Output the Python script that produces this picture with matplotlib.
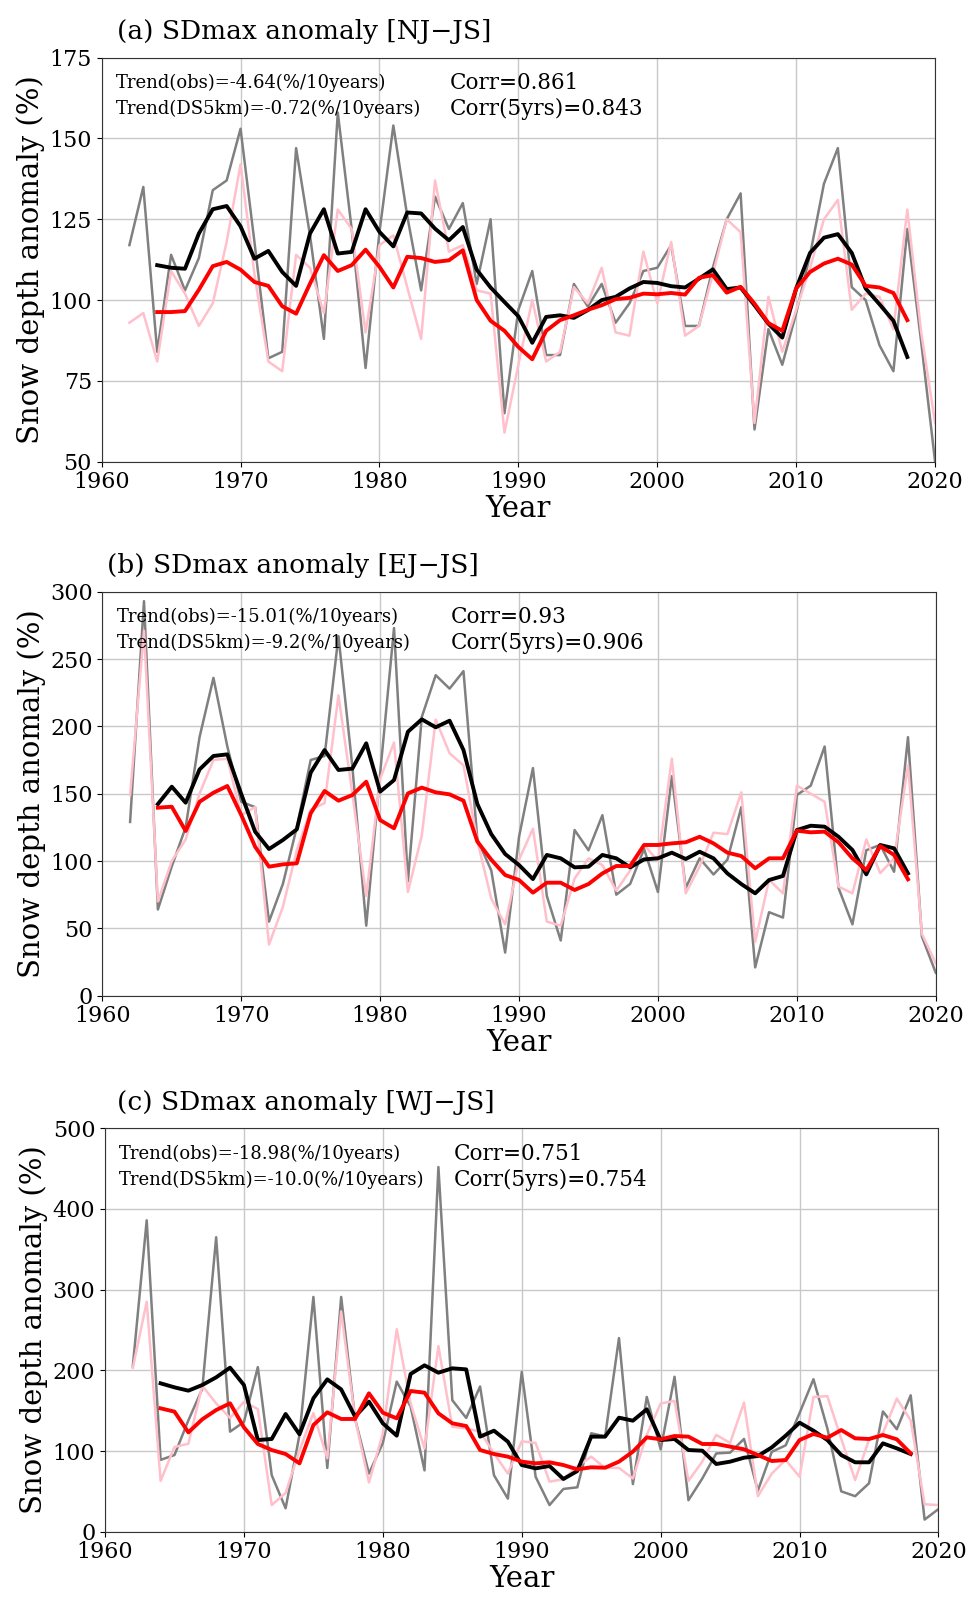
import numpy as np
import matplotlib
matplotlib.use('Agg')
import matplotlib.pyplot as plt

plt.rcParams['font.family'] = 'DejaVu Serif'

years = np.arange(1962, 2021)
years5 = np.arange(1964, 2019)

# (a) NJ-JS
obs_a = [117, 135, 84, 114, 103, 113, 134, 137, 153, 118, 82, 84, 147, 120, 88, 158, 122, 79, 121, 154,
         126, 103, 132, 122, 130, 105, 125, 65, 97, 109, 83, 83, 105, 98, 105, 93, 99, 109, 110, 117,
         92, 92, 110, 125, 133, 60, 91, 80, 96, 114, 136, 147, 104, 100, 86, 78, 122, 87, 50]
ds_a = [93, 96, 81, 109, 102, 92, 99, 118, 142, 108, 81, 78, 114, 110, 96, 128, 122, 90, 117, 120,
        104, 88, 137, 115, 117, 103, 102, 59, 80, 100, 81, 84, 104, 99, 110, 90, 89, 115, 99, 118,
        89, 92, 108, 125, 121, 62, 101, 84, 97, 110, 125, 131, 97, 102, 101, 91, 128, 90, 62]
obs5_a = [110.8, 110, 109.7, 120.6, 128.1, 129.1, 122.8, 112.8, 115.2, 108.7, 104.4, 120.6, 128.1, 114.4,
          114.9, 128.1, 121.1, 116.6, 127.1, 126.8, 122.1, 118.5, 122.6, 109.4, 103.9, 99.4, 95, 86.8,
          94.8, 95.3, 94.5, 96.9, 100, 101, 103.6, 105.6, 105.3, 104.3, 103.9, 106.6, 109.5, 103.4, 103.9,
          98.4, 92.7, 88.4, 103.6, 114.6, 119.3, 120.4, 114.6, 103.6, 98.7, 93.6, 82.4]
ds5_a = [96.3, 96.3, 96.6, 103.2, 110.5, 111.8, 109.4, 105.6, 104.4, 98.1, 95.8, 105.1, 113.9, 109,
         110.8, 115.6, 110.3, 103.9, 113.4, 113, 111.8, 112.3, 115.4, 100, 93.6, 90.5, 85.5, 81.7,
         90.5, 93.8, 95.3, 97, 98.4, 100.3, 100.7, 102, 101.8, 102.2, 101.7, 106.9, 107.7, 102.3, 104.1,
         98.9, 92.9, 90.5, 103.6, 108.7, 111.3, 112.8, 111, 104.4, 103.9, 102.2, 93.8]

# (b) EJ-JS
obs_b = [129, 293, 64, 96, 125, 192, 236, 185, 144, 140, 55, 83, 125, 175, 178, 267, 170, 52, 165, 273,
         85, 207, 238, 228, 241, 116, 93, 32, 118, 169, 74, 41, 123, 108, 134, 75, 83, 109, 77, 163,
         80, 102, 90, 101, 140, 21, 62, 58, 149, 156, 185, 80, 53, 108, 112, 92, 192, 44, 17]
ds_b = [149, 271, 70, 100, 116, 150, 175, 176, 134, 140, 38, 66, 108, 138, 143, 223, 150, 74, 161, 188,
        77, 119, 205, 180, 171, 115, 72, 53, 101, 124, 55, 52, 87, 102, 97, 78, 93, 112, 100, 176,
        76, 96, 121, 120, 151, 40, 86, 76, 156, 150, 144, 81, 76, 116, 91, 102, 171, 46, 24]
obs5_b = [142.3, 155.2, 143.3, 168, 178, 179.2, 149.8, 121.8, 108.9, 115.6, 123.5, 165.6, 182.4, 167.6,
          168.6, 187.4, 151.5, 160.1, 196, 205.2, 199.3, 204.2, 182.4, 142.3, 120, 105.2, 97, 86.6,
          104.5, 102, 95.3, 95.8, 104.5, 102, 95.3, 101.2, 102, 106.2, 101.5, 106.9, 102, 90.8, 82.9,
          76, 85.9, 88.9, 123, 126.2, 125.5, 118, 108.2, 90.1, 111.9, 109.4, 90.8]
ds5_b = [139.6, 140.3, 122.3, 144, 150.7, 155.7, 134.2, 110.6, 95.8, 97.5, 98.3, 135.4, 152, 144.8,
         149, 158.9, 130.4, 124.3, 150.2, 154.5, 151, 149.5, 144.8, 114.4, 101, 89.6, 85.9, 76.5,
         83.9, 83.9, 78.5, 82.9, 90.8, 96.3, 96.3, 111.9, 111.9, 113.1, 113.9, 118, 113.1, 106.2, 103.7,
         94.6, 102, 102, 122.5, 121.3, 121.8, 113.9, 102, 93.3, 111.1, 104.5, 86.4]

# (c) WJ-JS
obs_c = [205, 386, 89, 95, 138, 177, 365, 124, 136, 204, 70, 29, 120, 291, 79, 291, 140, 72, 110, 186,
         155, 76, 452, 163, 141, 180, 70, 41, 198, 68, 33, 53, 55, 122, 118, 240, 59, 167, 102, 192,
         39, 66, 97, 98, 115, 51, 99, 107, 147, 189, 128, 50, 44, 60, 149, 127, 169, 15, 28]
ds_c = [203, 285, 63, 105, 109, 181, 159, 141, 161, 152, 33, 48, 101, 147, 91, 273, 140, 61, 122, 251,
        159, 103, 230, 130, 128, 124, 97, 72, 112, 110, 62, 65, 81, 93, 79, 79, 66, 120, 159, 162,
        63, 87, 120, 110, 160, 44, 72, 89, 68, 167, 168, 115, 64, 114, 122, 165, 138, 34, 33]
obs5_c = [183.9, 178.9, 174.8, 181.8, 191.3, 203.3, 181.8, 113.6, 114.9, 145.9, 120.7, 165.3, 188.8, 176.4,
          142.6, 161.2, 134.3, 119, 195.5, 206.2, 197.1, 202.5, 201.2, 117.8, 125.2, 111.6, 82.6, 78.5,
          81.4, 65.3, 75.2, 117.8, 117.8, 141.3, 137.6, 151.7, 113.6, 114.9, 101.2, 100.4, 83.9, 86.8, 91.7,
          93.8, 104.5, 119, 135.1, 125.2, 113.6, 95, 86, 86, 109.5, 103.3, 96.3]
ds5_c = [152.9, 148.8, 123.1, 139.3, 150.8, 159.1, 129.3, 108.7, 101.2, 96.3, 84.7, 132.2, 147.9, 139.7,
         139.7, 171.5, 147.5, 140.5, 174.4, 172.3, 146.7, 134.3, 131, 101.2, 96.3, 93, 86.8, 84.7,
         86, 82.6, 77.3, 79.8, 79.3, 86.8, 99.2, 116.9, 114.5, 118.6, 117.8, 108.7, 108.7, 105.4, 102.1,
         95, 87.6, 88.8, 113.6, 121.1, 116.5, 126, 115.7, 114.9, 119.8, 114.5, 97.1]

titles = ['(a) SDmax anomaly [NJ\u2212JS]', '(b) SDmax anomaly [EJ\u2212JS]', '(c) SDmax anomaly [WJ\u2212JS]']
trend_obs = ['-4.64', '-15.01', '-18.98']
trend_ds = ['-0.72', '-9.2', '-10.0']
corr = ['0.861', '0.93', '0.751']
corr5 = ['0.843', '0.906', '0.754']

panels = [
    (obs_a, ds_a, obs5_a, ds5_a, (50, 175), np.arange(50, 176, 25)),
    (obs_b, ds_b, obs5_b, ds5_b, (0, 300), np.arange(0, 301, 50)),
    (obs_c, ds_c, obs5_c, ds5_c, (0, 500), np.arange(0, 501, 100)),
]
boxes = [[0.105, 0.7114, 0.861, 0.2526],
         [0.1057, 0.3777, 0.861, 0.2525],
         [0.1085, 0.0427, 0.861, 0.2521]]
title_x = [0.018, 0.006, 0.014]

fig = plt.figure(figsize=(9.68, 16), dpi=100)

for i, (obs, ds, obs5, ds5, ylim, yt) in enumerate(panels):
    ax = fig.add_axes(boxes[i])
    ax.plot(years, obs, color='gray', lw=1.8)
    ax.plot(years, ds, color='pink', lw=1.8)
    ax.plot(years5, obs5, color='black', lw=2.8)
    ax.plot(years5, ds5, color='red', lw=2.8)
    ax.set_xlim(1960, 2020)
    ax.set_ylim(*ylim)
    ax.set_xticks(np.arange(1960, 2021, 10))
    ax.set_yticks(yt)
    ax.tick_params(labelsize=16)
    ax.grid(True, color='#c8c8c8', lw=1)
    for s in ax.spines.values():
        s.set_color('#333333')
    ax.set_xlabel('Year', fontsize=21, labelpad=1)
    ax.set_ylabel('Snow depth anomaly (%)', fontsize=21, labelpad=3)
    ax.text(title_x[i], 1.045, titles[i], transform=ax.transAxes, fontsize=19, va='baseline')
    ax.text(0.017, 0.937, 'Trend(obs)=' + trend_obs[i] + '(%/10years)', transform=ax.transAxes,
            fontsize=13, va='center')
    ax.text(0.017, 0.873, 'Trend(DS5km)=' + trend_ds[i] + '(%/10years)', transform=ax.transAxes,
            fontsize=13, va='center')
    ax.text(0.418, 0.937, 'Corr=' + corr[i], transform=ax.transAxes, fontsize=15.5, va='center')
    ax.text(0.418, 0.873, 'Corr(5yrs)=' + corr5[i], transform=ax.transAxes, fontsize=15.5, va='center')

plt.savefig('out.png', dpi=100)
